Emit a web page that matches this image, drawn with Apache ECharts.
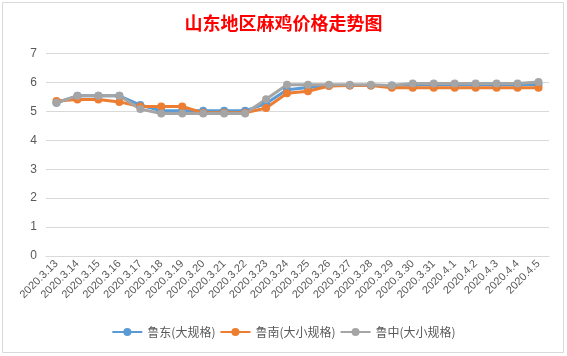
<!DOCTYPE html>
<html>
<head>
<meta charset="utf-8">
<script src="https://cdn.jsdelivr.net/npm/echarts@6/dist/echarts.min.js"></script>
<style>
html,body{margin:0;padding:0;background:#fff;}
#c{width:567px;height:356px;}
</style>
</head>
<body>
<div id="c"></div>
<script>
var titleText = '山东地区麻鸡价格走势图';
var categories = ['2020.3.13','2020.3.14','2020.3.15','2020.3.16','2020.3.17','2020.3.18','2020.3.19','2020.3.20','2020.3.21','2020.3.22','2020.3.23','2020.3.24','2020.3.25','2020.3.26','2020.3.27','2020.3.28','2020.3.29','2020.3.30','2020.3.31','2020.4.1','2020.4.2','2020.4.3','2020.4.4','2020.4.5'];
var seriesNames = ['鲁东(大规格)','鲁南(大小规格)','鲁中(大小规格)'];
var ludong = [5.3,5.54,5.54,5.54,5.22,5.02,5.02,5.02,5.02,5.02,5.27,5.75,5.83,5.9,5.9,5.9,5.9,5.92,5.92,5.92,5.92,5.92,5.92,5.93];
var lunan = [5.36,5.41,5.41,5.33,5.17,5.17,5.17,4.95,4.95,4.95,5.12,5.63,5.7,5.88,5.9,5.9,5.82,5.82,5.82,5.82,5.82,5.82,5.82,5.82];
var luzhong = [5.3,5.54,5.54,5.54,5.08,4.93,4.93,4.93,4.93,4.93,5.42,5.92,5.92,5.92,5.92,5.92,5.9,5.97,5.97,5.97,5.97,5.97,5.97,6.02];
var colors = ['#5B9BD5','#ED7D31','#A5A5A5'];

var chart = echarts.init(document.getElementById('c'), null, {renderer:'canvas'});
function mk(name, data, color){
  return {
    name: name, type: 'line', data: data,
    symbol: 'circle', symbolSize: 8,
    lineStyle: {width: 3, color: color},
    itemStyle: {color: color},
    emphasis: {disabled: true}
  };
}
chart.setOption({
  animation: false,
  backgroundColor: '#ffffff',
  color: colors,
  title: {
    text: titleText, left: 'center', top: 9,
    textStyle: {color: '#FF0000', fontSize: 18, fontWeight: 'bold', fontFamily: 'Noto Sans CJK SC'}
  },
  graphic: [{
    type: 'rect', shape: {x: 2.5, y: 2.5, width: 561, height: 350},
    style: {fill: 'none', stroke: '#d9d9d9', lineWidth: 1}, silent: true
  }],
  legend: {
    data: seriesNames, bottom: 13, left: 'center',
    itemWidth: 30, itemHeight: 10, itemGap: 4,
    textStyle: {color: '#595959', fontSize: 12, fontFamily: 'Noto Sans CJK SC'}
  },
  grid: {left: 46, right: 18, top: 53.6, bottom: 100, containLabel: false},
  xAxis: {
    type: 'category', data: categories, boundaryGap: true,
    axisLine: {show: true, lineStyle: {color: '#d9d9d9'}},
    axisTick: {show: false},
    axisLabel: {rotate: 45, interval: 0, color: '#595959', fontSize: 11, margin: 6, fontFamily: 'Liberation Sans'}
  },
  yAxis: {
    type: 'value', min: 0, max: 7, interval: 1,
    axisLine: {show: false}, axisTick: {show: false},
    splitLine: {lineStyle: {color: '#d9d9d9', width: 1}},
    axisLabel: {color: '#595959', fontSize: 12, margin: 9, fontFamily: 'Liberation Sans'}
  },
  series: [mk(seriesNames[0], ludong, colors[0]), mk(seriesNames[1], lunan, colors[1]), mk(seriesNames[2], luzhong, colors[2])]
});
</script>
</body>
</html>
